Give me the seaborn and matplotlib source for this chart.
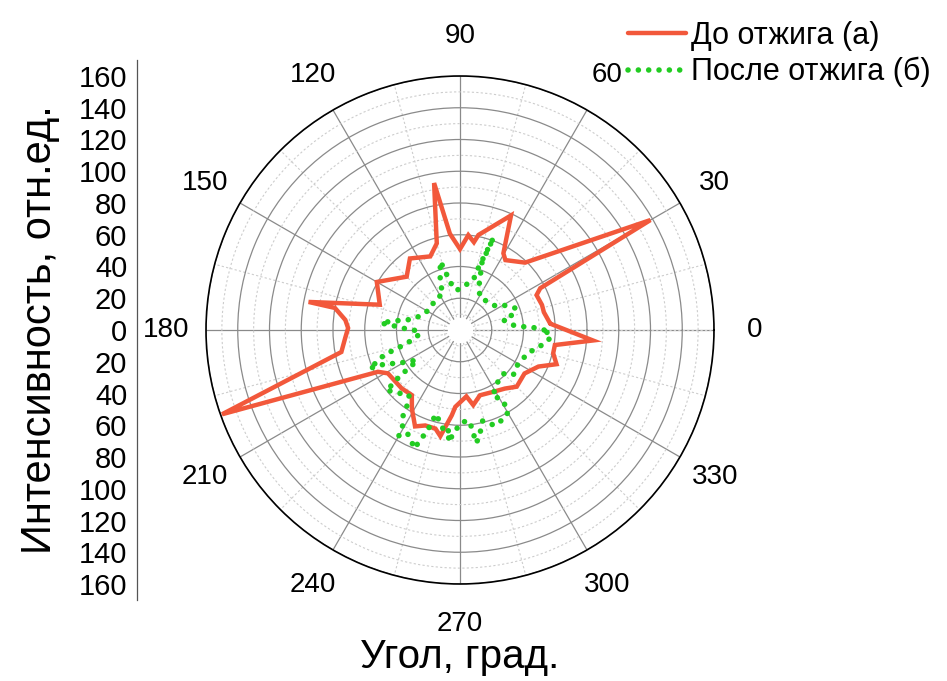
import numpy as np
import matplotlib
matplotlib.use("Agg")
import matplotlib.pyplot as plt
import seaborn as sns
from matplotlib.ticker import MultipleLocator

# ---------------- data ----------------
red_angle_deg = [4, 12, 17, 24.5, 27.5, 30, 46, 57, 60.5, 66, 79, 81, 85, 90, 96, 100,
                 105, 112, 125, 135, 150, 162.5, 169.5, 170, 175, 179, 184, 190.5, 199.5,
                 207, 211, 225, 233.5, 238.5, 245, 250, 256, 259.5, 264.5, 266.5, 275.5,
                 280, 287, 297, 307.5, 315, 326, 335, 340.5, 346, 351, 355.5, 4]
red_intensity = [57, 54, 54, 53, 57, 138.5, 59, 52.5, 55.5, 79, 61, 56, 60, 51, 61, 94,
                 56.5, 50, 55, 47.5, 60.5, 53, 97, 80, 72.5, 70.5, 72.5, 76, 159,
                 58, 53, 52, 51, 58, 67, 64, 64, 68, 54, 48.5, 42,
                 48, 43, 44, 46.5, 50.5, 49, 54.5, 64.5, 60.5, 60.5, 84, 57]

green_angle_deg = [0, 2, 3, 5, 13, 16, 21, 29, 34, 45, 58, 66, 72, 70, 74, 75, 84, 95,
                   102, 104, 106, 113, 115, 128, 144, 156, 165, 170, 172, 175, 176, 178,
                   180, 185, 192, 195, 197, 198, 201, 203, 204.5, 208, 215, 217, 217, 219,
                   219, 225, 232, 235, 236, 239, 240, 243, 246, 249, 250, 252, 253, 254,
                   262, 264, 264, 270, 275, 277, 278, 280, 284, 290, 298, 301, 301, 296,
                   302, 307, 315, 320, 325, 332, 341, 346, 351, 356, 0]
green_intensity = [53, 46, 40, 34, 28, 34, 38, 32, 27, 25, 24, 29, 45, 62, 39, 33, 28, 25,
                   31, 38, 45, 32, 25, 25, 23, 25, 29, 35, 42, 50, 43, 37,
                   29, 25, 31, 37, 44, 50, 56, 62, 51, 45, 33, 40, 47, 54,
                   60, 56, 52, 58, 64, 70, 77, 73, 76, 80, 74, 67, 61, 55,
                   66, 63, 71, 59, 57, 62, 72, 69, 59, 64, 62, 59, 51, 46,
                   43, 40, 39, 44, 42, 43, 45, 49, 54, 58, 53]

series_labels = ["До отжига (а)", "После отжига (б)"]
theta_tick_deg = list(range(0, 360, 30))
theta_tick_labels = [str(a) for a in theta_tick_deg]
r_ticks = [20, 40, 60, 80, 100, 120, 140, 160]
left_ticks = list(range(-160, 161, 20))
left_tick_labels = [str(abs(v)) for v in left_ticks]

red_color = "#F2583B"
green_color = "#22CC22"

# ---------------- style ----------------
sns.set_style("white")
plt.rcParams['font.family'] = ['Liberation Sans', 'DejaVu Sans']
for key in ['text.color', 'axes.labelcolor', 'xtick.color', 'ytick.color']:
    plt.rcParams[key] = 'black'

W, H = 947, 681
fig = plt.figure(figsize=(W / 100, H / 100), dpi=100)

cx, cy, R = 460, 330, 254
ax = fig.add_axes([(cx - R) / W, (H - cy - R) / H, 2 * R / W, 2 * R / H], projection='polar')
ax.set_axisbelow(True)
ax.set_ylim(0, 160)
ax.set_yticks(r_ticks)
ax.set_yticklabels([])
ax.yaxis.set_minor_locator(MultipleLocator(10))
ax.set_thetagrids(theta_tick_deg, labels=theta_tick_labels, fontsize=20)
ax.xaxis.set_minor_locator(MultipleLocator(np.deg2rad(15)))
ax.grid(which='major', color='#8a8a8a', linewidth=0.9, linestyle='-')
ax.grid(which='minor', color='#cdcdcd', linewidth=0.8, linestyle=(0, (2, 2)))
ax.tick_params(axis='y', which='both', length=0)
ax.tick_params(axis='x', which='major', pad=22, direction='in', length=6, width=1,
               color='black', labelcolor='black')
ax.tick_params(axis='x', which='minor', direction='in', length=3, width=0.8, color='black')
ax.spines['polar'].set_color('black')
ax.spines['polar'].set_linewidth(1.2)

# white centre hole
ring = np.linspace(0, 2 * np.pi, 200)
ax.fill_between(ring, 0, 8, color='white', lw=0, zorder=1.5)

sns.lineplot(x=np.deg2rad(red_angle_deg), y=red_intensity, ax=ax, sort=False,
             estimator=None, color=red_color, linewidth=3.2, label=series_labels[0])
red_line = ax.lines[-1]
red_line.set_zorder(3)
red_line.set_solid_joinstyle('miter')

sns.lineplot(x=np.deg2rad(green_angle_deg), y=green_intensity, ax=ax, sort=False,
             estimator=None, color=green_color, linewidth=4.0, label=series_labels[1])
green_line = ax.lines[-1]
green_line.set_linestyle((0, (0.01, 1.85)))
green_line.set_dash_capstyle('round')
green_line.set_zorder(4)

ax.set_ylim(0, 160)
ax.set_xlabel("Угол, град.", fontsize=29, color='black')
ax.xaxis.set_label_coords(cx / W, 1 - 638 / H, transform=fig.transFigure)
ax.set_ylabel("")

handles, labels = ax.get_legend_handles_labels()
if ax.get_legend() is not None:
    ax.get_legend().remove()
fig.legend(handles, labels, loc='upper left', bbox_to_anchor=(628 / W, 1 - 21 / H),
           frameon=False, fontsize=22, handlelength=1.9, handletextpad=0.15,
           labelspacing=0.2, borderpad=0, borderaxespad=0)

# left linear intensity scale
axl = fig.add_axes([137 / W, (H - cy - 270) / H, 0.0005, 540 / H])
axl.set_ylim(-170, 170)
axl.set_yticks(left_ticks)
axl.set_yticklabels(left_tick_labels, fontsize=21)
axl.yaxis.set_minor_locator(MultipleLocator(10))
axl.set_xticks([])
for s in ['top', 'right', 'bottom']:
    axl.spines[s].set_visible(False)
axl.spines['left'].set_color('#555555')
axl.spines['left'].set_linewidth(0.9)
axl.tick_params(axis='y', which='major', direction='out', length=5, width=0.9,
                color='#555555', labelcolor='black', pad=2)
axl.tick_params(axis='y', which='minor', direction='out', length=3, width=0.8, color='#555555')
axl.patch.set_visible(False)
axl.set_ylabel("Интенсивность, отн.ед.", fontsize=30, color='black')
axl.yaxis.set_label_coords(60 / W, 1 - 330 / H, transform=fig.transFigure)

fig.savefig("out.png", dpi=100)
